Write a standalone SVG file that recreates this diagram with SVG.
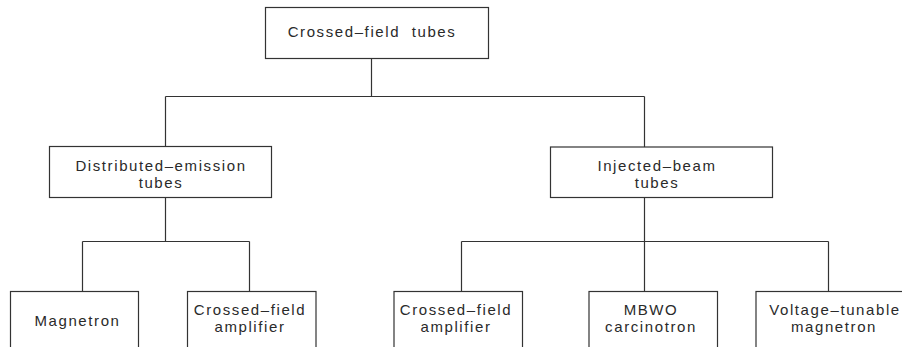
<svg xmlns="http://www.w3.org/2000/svg" width="902" height="347" viewBox="0 0 902 347">
<style>
.box{fill:#fff;stroke:#333;stroke-width:1.2}
.ln{stroke:#333;stroke-width:1.2;fill:none}
.t{font-family:"Liberation Sans",Arial,sans-serif;font-size:15px;fill:#2a2a2a;text-anchor:middle;letter-spacing:1.6px}
</style>
<rect width="902" height="347" fill="#fff"/>
<g id="connectors">
<path class="ln" d="M371.5 58.5V96.5M165.5 96.5H644.5M165.5 96.5V146.5M644.5 96.5V147M165.5 197.5V241.5M644.5 197.5V241.5M82.5 241.5H249.5M461.5 241.5H828.5M82.5 241.5V291.5M249.5 241.5V291.5M461.5 241.5V291.5M644.5 241.5V291.5M828.5 241.5V291.5"/>
</g>
<g id="root">
<rect class="box" x="265.5" y="7.5" width="223" height="51"/>
<text class="t" x="372" y="37" xml:space="preserve">Crossed–field  tubes</text>
</g>
<g id="distributed">
<rect class="box" x="49.5" y="146.5" width="222" height="51"/>
<text class="t" x="161" y="171">Distributed–emission</text>
<text class="t" x="161" y="188">tubes</text>
</g>
<g id="injected">
<rect class="box" x="550.5" y="147" width="222" height="50.5"/>
<text class="t" x="657" y="171">Injected–beam</text>
<text class="t" x="657" y="188">tubes</text>
</g>
<g id="magnetron">
<rect class="box" x="10.5" y="291.5" width="128" height="70"/>
<text class="t" x="77.5" y="326">Magnetron</text>
</g>
<g id="cfa1">
<rect class="box" x="187.5" y="291.5" width="128.5" height="70"/>
<text class="t" x="250" y="315">Crossed–field</text>
<text class="t" x="250" y="332">amplifier</text>
</g>
<g id="cfa2">
<rect class="box" x="394" y="291.5" width="128.5" height="70"/>
<text class="t" x="456" y="315">Crossed–field</text>
<text class="t" x="456" y="332">amplifier</text>
</g>
<g id="mbwo">
<rect class="box" x="589" y="291.5" width="128.5" height="70"/>
<text class="t" x="651" y="315">MBWO</text>
<text class="t" x="651" y="332">carcinotron</text>
</g>
<g id="voltage">
<rect class="box" x="756" y="291.5" width="160" height="70"/>
<text class="t" x="835" y="315">Voltage–tunable</text>
<text class="t" x="834" y="332">magnetron</text>
</g>
</svg>
